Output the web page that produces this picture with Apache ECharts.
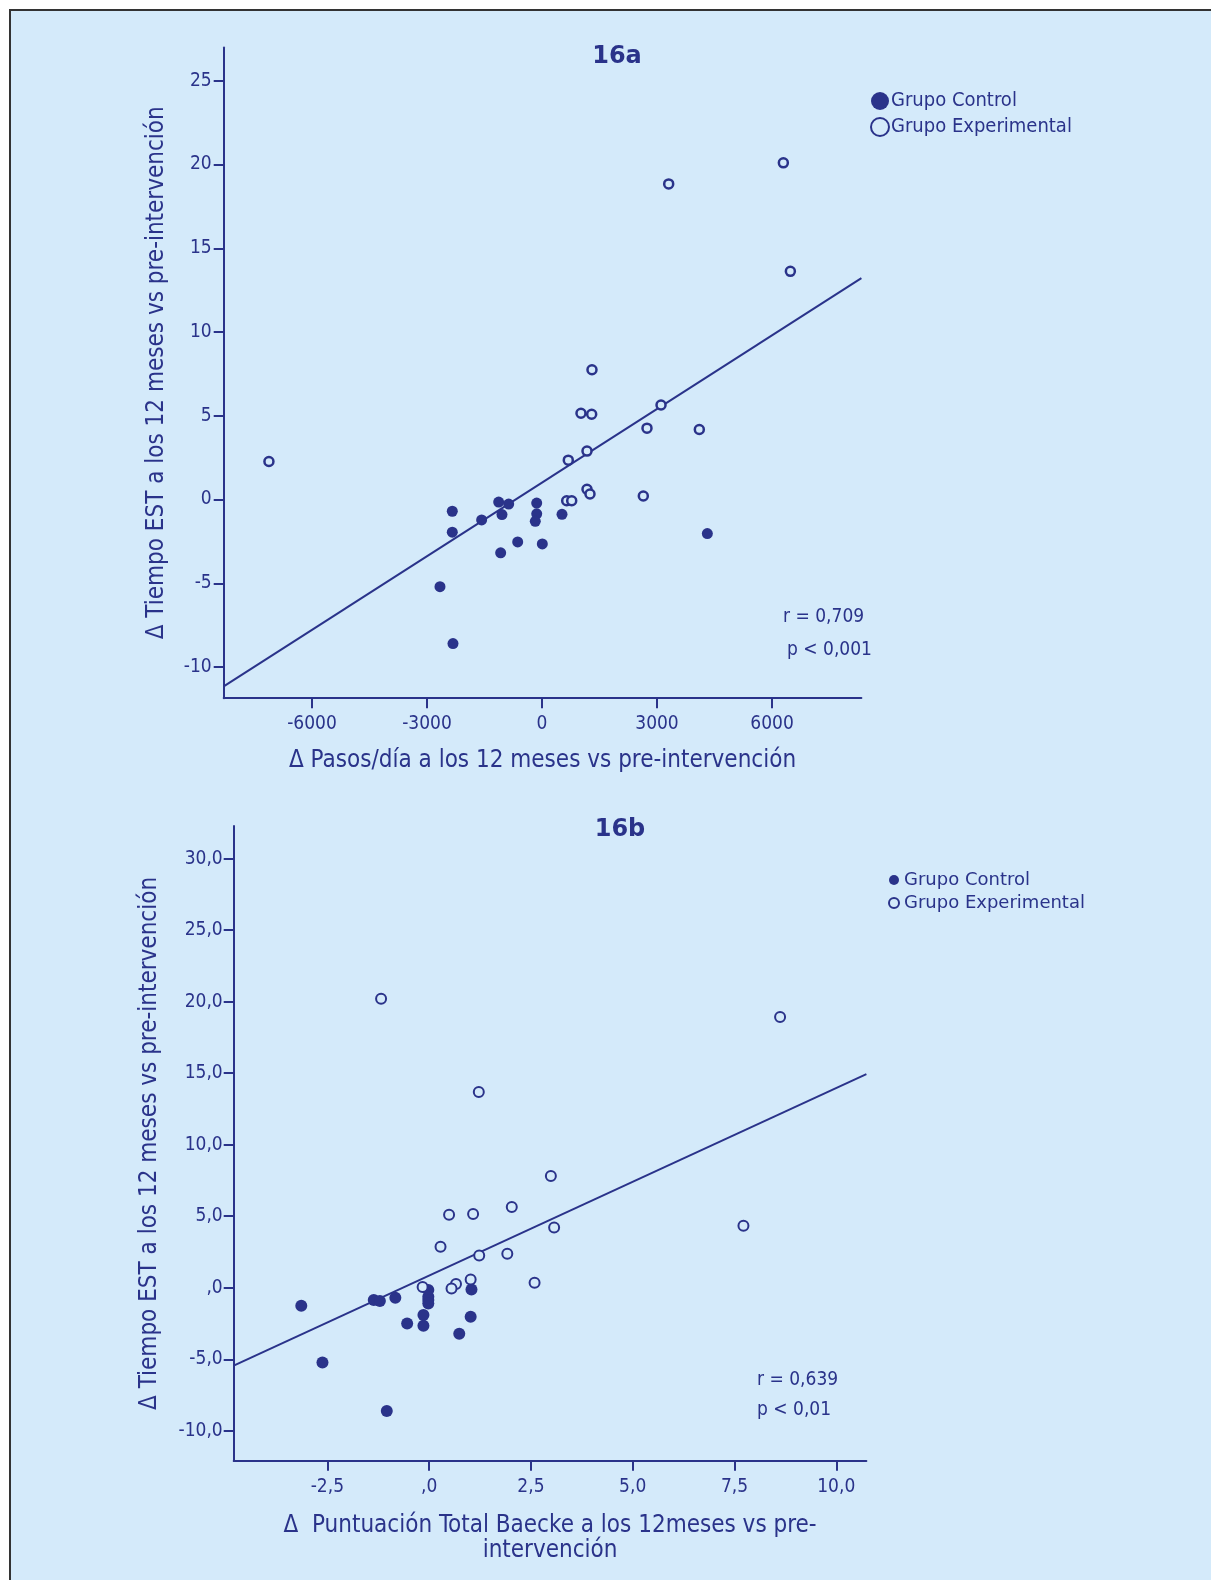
<!DOCTYPE html>
<html>
<head>
<meta charset="utf-8">
<script src="https://cdn.jsdelivr.net/npm/echarts@6/dist/echarts.min.js"></script>
<style>
html,body{margin:0;padding:0;background:#fff;}
#c{width:1211px;height:1580px;}
</style>
</head>
<body>
<div id="c"></div>
<script>
// ---- Data: chart 16a (Δ pasos/día vs Δ tiempo EST)
const ctrlA = [[-2340,-0.70],[-2340,-1.95],[-1574,-1.22],[-1130,-0.15],[-869,-0.27],[-1044,-0.90],[-138,-0.21],[-138,-0.85],[-175,-1.30],[522,-0.88],[-634,-2.53],[8,-2.65],[-1078,-3.18],[4313,-2.03],[-2661,-5.2],[-2322,-8.6]];
const expA = [[-7123,2.27],[1017,5.15],[1296,5.09],[3105,5.64],[2739,4.26],[4104,4.18],[1174,2.89],[686,2.35],[1174,0.61],[1252,0.33],[644,-0.07],[775,-0.07],[2643,0.21],[3305,18.84],[6296,20.1],[6479,13.62],[1304,7.75]];
const fitA = [[-8303,-11.15],[8332,13.22]];
const xTicksA = [-6000,-3000,0,3000,6000];
const yTicksA = [-10,-5,0,5,10,15,20,25];
const statsA = ['r = 0,709','p < 0,001'];

// ---- Data: chart 16b (Δ Baecke vs Δ tiempo EST)
const ctrlB = [[-3.14,-1.26],[-2.62,-5.22],[-1.04,-8.62],[-1.36,-0.86],[-1.21,-0.93],[-0.83,-0.70],[-0.02,-0.16],[-0.02,-0.63],[-0.02,-0.85],[-0.02,-1.1],[-0.14,-1.91],[-0.14,-2.66],[-0.54,-2.5],[0.74,-3.22],[1.02,-2.03],[1.04,-0.12]];
const expB = [[2.99,7.81],[0.49,5.10],[1.08,5.15],[2.03,5.64],[3.07,4.22],[0.28,2.87],[1.23,2.26],[1.92,2.38],[1.02,0.58],[0.66,0.26],[0.55,-0.05],[-0.16,0.05],[2.59,0.35],[-1.18,20.2],[8.62,18.93],[1.22,13.69],[7.72,4.34]];
const fitB = [[-4.80,-5.44],[10.74,14.94]];
const xTicksB = [-2.5,0,2.5,5,7.5,10];
const yTicksB = [-10,-5,0,5,10,15,20,25,30];
const statsB = ['r = 0,639','p < 0,01'];

const seriesNames = ['Grupo Control','Grupo Experimental'];
const titles = ['16a','16b'];
const yName = 'Δ Tiempo EST a los 12 meses vs pre-intervención';
const xNameA = 'Δ Pasos/día a los 12 meses vs pre-intervención';
const xNameB = 'Δ  Puntuación Total Baecke a los 12meses vs pre-\nintervención';

const NAVY = '#2a338a';
const BG = '#d4eafa';
const NARROW = '"Liberation Sans Narrow", "DejaVu Sans Condensed", sans-serif';

const fmtB = v => (v === 0 ? ',0' : v.toFixed(1).replace('.', ','));

function axisCommon(ticks, fontFamily, fontSize, margin, tickLen, formatter) {
  return {
    axisLine: {show: true, onZero: false, lineStyle: {color: NAVY, width: 2}},
    axisTick: {show: true, length: tickLen, lineStyle: {color: NAVY, width: 2}, customValues: ticks},
    axisLabel: {color: NAVY, fontFamily: fontFamily, fontSize: fontSize, margin: margin, customValues: ticks,
      formatter: formatter || (v => String(v)), showMinLabel: true, showMaxLabel: true},
    splitLine: {show: false}
  };
}

const chart = echarts.init(document.getElementById('c'), null, {renderer: 'canvas'});
const option = {
  backgroundColor: '#ffffff',
  animation: false,
  graphic: [
    {type: 'rect', z: -10, silent: true, shape: {x: 10, y: 10, width: 1300, height: 1700},
     style: {fill: BG, stroke: '#333333', lineWidth: 2}},
    {type: 'text', left: 783, top: 608, style: {text: statsA[0], fill: NAVY, font: '19px ' + NARROW}},
    {type: 'text', left: 787, top: 641, style: {text: statsA[1], fill: NAVY, font: '19px ' + NARROW}},
    {type: 'text', left: 757, top: 1371, style: {text: statsB[0], fill: NAVY, font: '19px ' + NARROW}},
    {type: 'text', left: 757, top: 1401, style: {text: statsB[1], fill: NAVY, font: '19px ' + NARROW}}
  ],
  title: [
    {text: titles[0], left: 612, top: 40, textAlign: 'center',
     textStyle: {color: NAVY, fontSize: 24, fontWeight: 'bold', fontFamily: '"DejaVu Sans", sans-serif'}},
    {text: titles[1], left: 615, top: 813, textAlign: 'center',
     textStyle: {color: NAVY, fontSize: 24, fontWeight: 'bold', fontFamily: '"DejaVu Sans", sans-serif'}}
  ],
  legend: [
    {orient: 'vertical', left: 865, top: 86, itemWidth: 18, itemHeight: 18, itemGap: 6,
     textStyle: {color: NAVY, fontSize: 20, fontFamily: NARROW, padding: [0,0,0,-3]},
     selectedMode: false,
     data: [
       {name: seriesNames[0], icon: 'circle', itemStyle: {color: NAVY, borderWidth: 0}},
       {name: seriesNames[1], icon: 'circle', itemStyle: {color: BG, borderColor: NAVY, borderWidth: 2}}
     ]},
    {orient: 'vertical', left: 883, top: 865, itemWidth: 10, itemHeight: 10, itemGap: 3,
     textStyle: {color: NAVY, fontSize: 18, fontFamily: '"DejaVu Sans", sans-serif', lineHeight: 20},
     selectedMode: false,
     data: [
       {name: seriesNames[0], icon: 'circle', itemStyle: {color: NAVY, borderWidth: 0}},
       {name: seriesNames[1], icon: 'circle', itemStyle: {color: BG, borderColor: NAVY, borderWidth: 2}}
     ]}
  ],
  grid: [
    {left: 223.7, top: 47.4, width: 637.7, height: 650.8},
    {left: 233.7, top: 826.1, width: 632.7, height: 634.7}
  ],
  xAxis: [
    Object.assign({type: 'value', gridIndex: 0, min: -8303, max: 8332,
      name: xNameA, nameLocation: 'middle', nameGap: 51,
      nameTextStyle: {color: NAVY, fontSize: 24, fontFamily: NARROW}},
      axisCommon(xTicksA, NARROW, 19, 16, 10)),
    Object.assign({type: 'value', gridIndex: 1, min: -4.80, max: 10.74,
      name: xNameB, nameLocation: 'middle', nameGap: 52,
      nameTextStyle: {color: NAVY, fontSize: 24, fontFamily: NARROW, lineHeight: 25}},
      axisCommon(xTicksB, NARROW, 19, 17, 10, fmtB))
  ],
  yAxis: [
    Object.assign({type: 'value', gridIndex: 0, min: -11.86, max: 26.99,
      name: yName, nameLocation: 'middle', nameGap: 55, nameRotate: 90,
      nameTextStyle: {color: NAVY, fontSize: 24, fontFamily: NARROW}},
      axisCommon(yTicksA, NARROW, 19, 12, 10)),
    Object.assign({type: 'value', gridIndex: 1, min: -12.1, max: 32.28,
      name: yName, nameLocation: 'middle', nameGap: 72, nameRotate: 90,
      nameTextStyle: {color: NAVY, fontSize: 24, fontFamily: NARROW}},
      axisCommon(yTicksB, NARROW, 19, 11, 10, fmtB))
  ],
  series: [
    {type: 'line', xAxisIndex: 0, yAxisIndex: 0, data: fitA, showSymbol: false, silent: true,
     lineStyle: {color: NAVY, width: 2}, z: 1},
    {name: seriesNames[0], type: 'scatter', xAxisIndex: 0, yAxisIndex: 0, data: ctrlA,
     symbol: 'circle', symbolSize: 11, itemStyle: {color: NAVY, opacity: 1}, z: 3},
    {name: seriesNames[1], type: 'scatter', xAxisIndex: 0, yAxisIndex: 0, data: expA,
     symbol: 'circle', symbolSize: 9, itemStyle: {color: BG, borderColor: NAVY, borderWidth: 2.5, opacity: 1}, z: 3},
    {type: 'line', xAxisIndex: 1, yAxisIndex: 1, data: fitB, showSymbol: false, silent: true,
     lineStyle: {color: NAVY, width: 2}, z: 1},
    {name: seriesNames[0], type: 'scatter', xAxisIndex: 1, yAxisIndex: 1, data: ctrlB,
     symbol: 'circle', symbolSize: 12, itemStyle: {color: NAVY, opacity: 1}, z: 3},
    {name: seriesNames[1], type: 'scatter', xAxisIndex: 1, yAxisIndex: 1, data: expB,
     symbol: 'circle', symbolSize: 10, itemStyle: {color: BG, borderColor: NAVY, borderWidth: 2, opacity: 1}, z: 3}
  ]
};
chart.setOption(option);
</script>
</body>
</html>
